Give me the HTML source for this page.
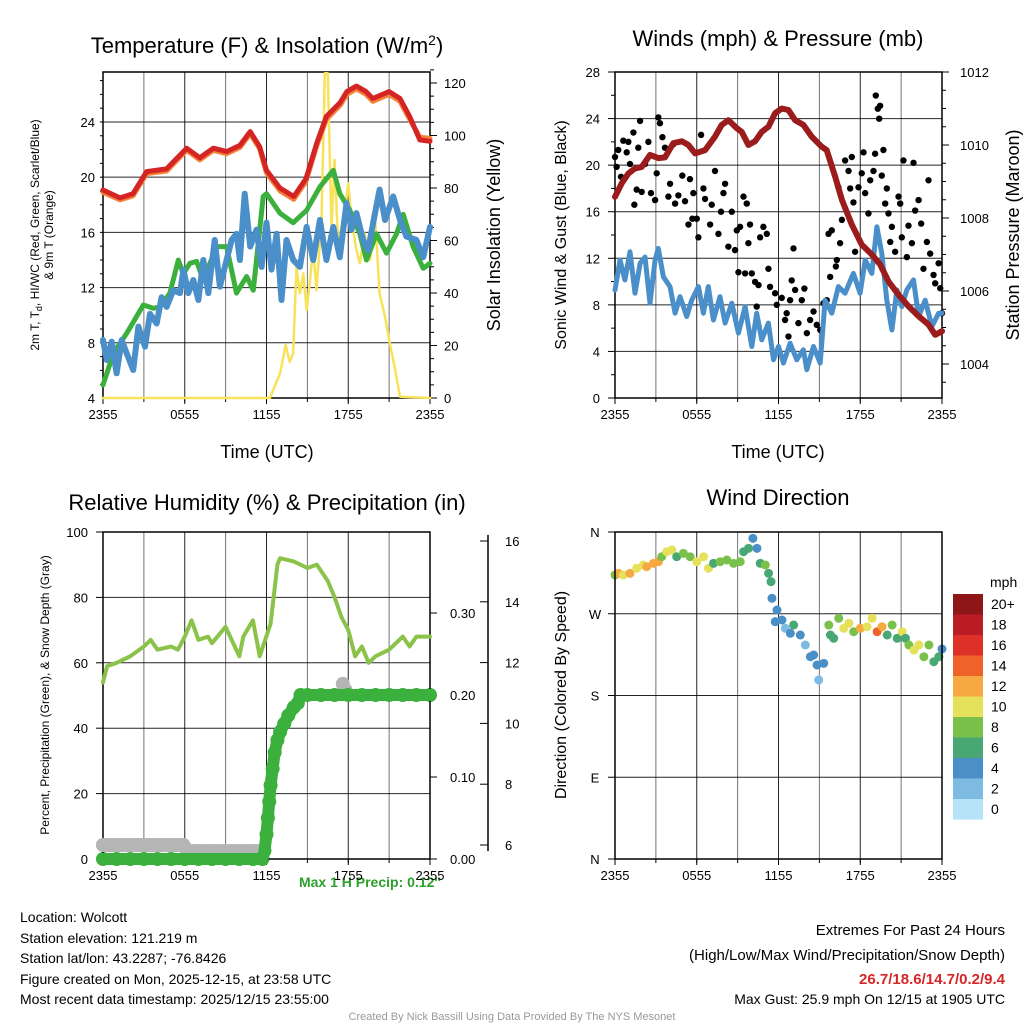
<!DOCTYPE html>
<html><head><meta charset="utf-8"><style>
html,body{margin:0;padding:0;background:#fff}
svg{display:block;font-family:"Liberation Sans",sans-serif}
</style></head><body>
<svg id="s" width="1024" height="1024" viewBox="0 0 1024 1024">
<text x="267" y="53" font-size="22" text-anchor="middle">Temperature (F) &amp; Insolation (W/m<tspan dy="-8" font-size="14">2</tspan><tspan dy="8">)</tspan></text>
<text x="778" y="46" font-size="22" text-anchor="middle">Winds (mph) &amp; Pressure (mb)</text>
<text x="267" y="510" font-size="22" text-anchor="middle">Relative Humidity (%) &amp; Precipitation (in)</text>
<text x="778" y="505" font-size="22" text-anchor="middle">Wind Direction</text>
<text x="267" y="458" font-size="18" text-anchor="middle">Time (UTC)</text>
<text x="778" y="458" font-size="18" text-anchor="middle">Time (UTC)</text>
<text transform="translate(39,235) rotate(-90)" font-size="12" text-anchor="middle">2m T, T<tspan dy="3" font-size="9">d</tspan><tspan dy="-3">, HI/WC (Red, Green, Scarlet/Blue)</tspan></text>
<text transform="translate(53,235) rotate(-90)" font-size="12" text-anchor="middle">&amp; 9m T (Orange)</text>
<text transform="translate(500,235) rotate(-90)" font-size="18" text-anchor="middle">Solar Insolation (Yellow)</text>
<text transform="translate(566,235) rotate(-90)" font-size="16" text-anchor="middle">Sonic Wind &amp; Gust (Blue, Black)</text>
<text transform="translate(1019,235) rotate(-90)" font-size="18" text-anchor="middle">Station Pressure (Maroon)</text>
<text transform="translate(49,695) rotate(-90)" font-size="12" text-anchor="middle">Percent, Precipitation (Green), &amp; Snow Depth (Gray)</text>
<text transform="translate(566,695) rotate(-90)" font-size="16" text-anchor="middle">Direction (Colored By Speed)</text>
<text x="370" y="887" font-size="14" font-weight="bold" fill="#2ca02c" text-anchor="middle">Max 1 H Precip: 0.12''</text>
<text x="990" y="587" font-size="14">mph</text>
<g font-size="14">
<text x="20" y="922">Location: Wolcott</text>
<text x="20" y="943">Station elevation: 121.219 m</text>
<text x="20" y="963">Station lat/lon: 43.2287; -76.8426</text>
<text x="20" y="984">Figure created on Mon, 2025-12-15, at 23:58 UTC</text>
<text x="20" y="1004">Most recent data timestamp: 2025/12/15 23:55:00</text>
</g>
<g font-size="15" text-anchor="end">
<text x="1005" y="935">Extremes For Past 24 Hours</text>
<text x="1005" y="960">(High/Low/Max Wind/Precipitation/Snow Depth)</text>
<text x="1005" y="984" fill="#d62728" font-weight="bold">26.7/18.6/14.7/0.2/9.4</text>
<text x="1005" y="1004" font-size="14">Max Gust: 25.9 mph On 12/15 at 1905 UTC</text>
</g>
<text x="512" y="1020" font-size="11" fill="#999" text-anchor="middle">Created By Nick Bassill Using Data Provided By The NYS Mesonet</text>
</svg>
<script>
// ---- Panel 1 data ----
const xTickLabels = ["2355","0555","1155","1755","2355"];
const tempLeftTicks = [4,8,12,16,20,24];
const insolTicks = [0,20,40,60,80,100,120];
const redT = [0,1.25,2.2,3.2,4.67,6.14,7.1,8.1,9.07,10.05,10.8,11.5,12,13,14,14.9,15.7,16.4,17.4,17.9,18.6,19.3,19.8,21,21.8,22.5,23.25,24];
const redV = [19.07,18.5,18.8,20.4,20.6,22.1,21.4,22.1,21.85,22.3,23.3,22.2,20.5,19.2,18.6,19.9,22.5,24.4,25.4,26.2,26.6,26.2,25.7,26.2,25.7,24.4,22.7,22.6];
const orangeV = [18.9,18.35,18.65,20.25,20.45,21.95,21.25,21.95,21.7,22.15,23.15,22.05,20.3,19.0,18.4,19.7,22.3,24.2,25.2,26.0,26.4,26.0,25.5,26.0,25.5,24.2,22.9,22.8];
const greenT = [0,0.76,1.74,2.96,3.69,4.18,4.91,5.53,5.89,6.38,6.87,7.36,8.34,9.07,9.8,10.54,11.03,11.76,12,12.98,13.96,14.94,15.92,16.9,17.38,18.12,18.85,19.34,20.07,20.81,21.54,22.03,22.76,23.5,24];
const greenV = [4.94,7.24,8.69,10.74,10.5,10.6,11.6,14.0,13.0,13.76,13.9,12.55,14.97,14.97,11.6,12.8,11.8,18.6,18.8,17.4,16.7,17.6,19.3,20.5,18.8,17.6,15.9,14.0,15.9,14.5,15.9,17.3,14.97,13.4,13.76];
const blueT = [0,0.27,0.64,1,1.37,1.74,2.22,2.6,3.08,3.45,3.94,4.3,4.67,5.16,5.65,5.9,6.26,6.63,7,7.36,7.73,8.2,8.58,9.07,9.44,9.8,10.05,10.4,10.8,11.27,11.64,12,12.37,12.74,13.1,13.47,13.96,14.45,14.94,15.43,15.92,16.4,16.9,17.38,17.87,18.24,18.6,19.1,19.46,19.83,20.3,20.7,21.3,21.8,22.27,23,23.5,24];
const blueV = [8.2,6.75,8.08,5.79,8.2,7.24,6.03,9.17,7.72,10.1,9.4,11.3,10.6,11.8,11.6,13.3,11.6,12.55,11.1,14,11.6,15.45,12.07,14,15.45,15.9,14,18.8,14.97,16.2,13.5,16.7,13.3,15.9,11.1,15.45,14,13.5,16.4,14,16.9,14,16.4,14.2,18.1,16.2,17.4,15.45,14.7,16.7,19.1,16.9,18.6,16.9,15.7,15.45,14.2,16.4];
const insolT = [0,12.25,13,13.4,13.7,13.96,14.2,14.45,14.7,14.94,15.2,15.43,15.67,16.04,16.28,16.5,16.77,17,17.26,17.5,17.75,18,18.24,18.6,18.85,19.2,19.6,19.95,20.3,20.7,21.05,21.4,21.8,24];
const insolV = [0,0,9.4,20.2,13.8,17,50,39.9,47.5,33.5,45,57.6,41,67.8,123.7,123.7,65,90.7,57.6,65,71.6,81.8,67.8,56.4,51.3,62.7,52.6,70.4,39.9,31,20.8,11.9,0.5,0];
// ---- Panel 2 data ----
const windTicks = [0,4,8,12,16,20,24,28];
const presTicks = [1004,1006,1008,1010,1012];
const windT = [0,.37,.73,1.1,1.47,1.84,2.2,2.57,2.94,3.18,3.55,4.04,4.41,4.77,5.26,5.63,6.12,6.49,6.85,7.22,7.71,8.08,8.57,9.06,9.55,10.04,10.4,10.77,11.26,11.63,12,12.36,12.85,13.34,13.83,14.08,14.57,15.06,15.42,15.91,16.4,16.89,17.5,17.99,18.36,18.85,19.22,19.58,19.95,20.32,20.69,21.05,21.42,21.91,22.28,22.77,23.26,23.75,24];
const windV = [9.28,11.85,10.14,12.56,9,11.57,12.1,8.14,11.85,12.85,10.4,9.57,7.28,8.7,7,8.4,9.57,7.28,9.57,6.7,8.7,6.43,8.14,5.57,7.85,4.42,7.28,5,6.43,3.28,4.42,3,4.7,3.28,4.14,2.43,4.42,3,8.4,7.28,9.57,9,10.7,9,11.85,10.7,14.7,12.4,8.4,5.85,9.28,7.85,9.28,10.14,7,8.4,6.14,7.28,7.28];
const gustT = [0,.12,.24,.44,.61,.86,.98,1.1,1.35,1.42,1.59,1.71,1.84,1.96,2.2,2.45,2.64,2.94,3.06,3.18,3.3,3.48,3.67,3.92,4.04,4.28,4.41,4.65,4.94,5.14,5.39,5.5,5.68,5.75,6,6.12,6.32,6.49,6.61,6.98,7.1,7.34,7.59,7.78,7.96,8.08,8.32,8.57,8.81,8.94,9.18,9.43,9.67,9.79,9.91,9.06,9.55,10.04,10.28,10.53,10.65,10.89,11.14,11.26,11.38,10.4,11.75,11.87,12.24,12.48,12.6,12.73,12.85,12.97,13.1,13.22,13.46,13.71,13.9,14.08,14.32,14.57,14.81,15.06,15.3,15.54,15.79,15.67,15.91,16.21,16.28,16.4,16.52,16.65,16.89,17.14,17.38,17.26,17.5,17.62,17.87,18.11,18.24,18.36,18.6,18.73,18.97,19.09,19.14,19.29,19.46,19.39,19.58,19.7,19.83,19.95,20.07,20.2,20.32,20.56,20.81,20.93,21.05,21.17,21.42,21.54,21.79,21.91,22.03,22.28,22.47,22.64,22.89,23.01,23.13,23.38,23.5,23.75,23.87,24];
const gustV = [20.7,19.85,21.3,19,22.1,21.1,22,20.1,22.8,16.6,17.9,21.5,23.8,17.7,20.1,22,17.6,17,19.3,24.1,23.6,22.4,21.5,17.3,18.4,21.8,16.7,17.4,19.1,16.9,14.9,18.8,15.4,17.6,15.4,13.8,22.6,18,17.1,14.9,16.6,19.5,14.1,16,17.6,18.4,13,16,12.7,14.4,14.7,17.3,16.7,13.3,14.9,10.8,10.7,10.7,9.97,9.7,13.8,14.7,14.1,11.1,9.55,7.85,9,8,8.6,6.7,7.28,5.28,8.4,10.1,12.85,9.28,6.43,8.4,9.4,5.57,6.7,7.43,6.28,5.85,8.14,8.4,10.4,14.1,14.4,11.3,11.85,18.1,13.3,15.3,20.4,19.5,20.7,18,16.8,12.56,18.1,19.3,21.1,17.6,15.85,18.7,19.5,20.98,25.98,24.85,25.1,23.99,19.1,21.3,16.7,18,15.85,13.4,14.7,12.56,17.3,16.7,13.8,20.4,12.1,14.8,13.3,20.2,16.1,17,14.98,11.1,13.4,18.7,12.4,10.57,9.85,11.57,9.43,7.28];
const presT = [0,.49,.98,1.47,1.96,2.57,3.18,3.67,4.28,4.9,5.39,5.88,6.61,7.34,7.83,8.32,8.94,9.3,9.79,10.28,10.77,11.26,11.75,12.24,12.73,13.22,13.83,14.44,15.18,15.54,16.16,16.65,17.38,18.11,18.85,19.46,20.07,20.81,21.54,22.28,23.01,23.5,24];
const presV = [1008.58,1008.95,1009.22,1009.36,1009.4,1009.73,1009.64,1009.66,1010.05,1010.1,1010,1009.77,1009.86,1010.23,1010.55,1010.68,1010.46,1010.36,1010,1010.1,1010.36,1010.5,1010.87,1011,1010.96,1010.68,1010.55,1010.23,1009.95,1009.86,1009.13,1008.5,1007.82,1007.27,1007,1006.73,1006.26,1005.9,1005.58,1005.31,1005.08,1004.8,1004.9];
// ---- Panel 3 data ----
const rhTicks = [0,20,40,60,80,100];
const precipTicks = ["0.00","0.10","0.20","0.30"];
const snowTicks = [6,8,10,12,14,16];
const rhT = [0,0.3,1,2,3,3.5,4,5,5.5,6,6.5,7,7.7,8,9,10,10.3,11,11.5,12.3,12.8,13,14,15,15.7,16.5,17,17.5,18,18.5,19,19.5,20,21,22,22.5,23,24];
const rhV = [54,59,60,62,65,67,64,65,64,68,73,67,68,66,71,62,68,73,62,72,90,92,91,89,90,85,80,74,70,62,65,60,62,64,68,65,68,68];
const precipT = [0,1,2,3,4,5,6,7,8,9,10,11,11.7,11.85,12,12.1,12.2,12.3,12.45,12.6,12.8,13,13.3,13.6,14,14.3,14.5,15,16,17,18,19,20,21,22,23,24];
const precipV = [0,0,0,0,0,0,0,0,0,0,0,0,0,0.01,0.03,0.05,0.07,0.09,0.11,0.13,0.145,0.155,0.165,0.175,0.185,0.19,0.2,0.2,0.2,0.2,0.2,0.2,0.2,0.2,0.2,0.2,0.2];
const snowT = [0,1,2,3,4,5,5.9,6.2,7,8,9,10,11,11.6,17.6,17.8];
const snowV = [6,6,6,6,6,6,6,5.8,5.8,5.8,5.8,5.8,5.8,5.8,11.3,11.1];
// ---- Panel 4 data ----
const dirLabels = ["N","W","S","E","N"];
const speedBins = ["20+","18","16","14","12","10","8","6","4","2","0"];
const dirT = [0,.25,.61,1.1,1.59,2.08,2.33,2.82,3.19,3.43,3.8,4.17,4.53,5.02,5.51,6,6.5,6.86,7.23,7.72,8.21,8.7,9.19,9.44,9.8,10.12,10.42,10.66,11.03,11.27,11.45,11.52,11.89,11.76,12.25,12.5,12.87,13.11,13.6,13.97,14.34,14.58,14.83,14.95,15.32,15.69,15.81,16.05,16.42,16.79,17.16,17.52,18.01,18.5,18.87,19.24,19.6,19.98,20.34,20.71,21.08,21.32,21.57,21.94,22.3,22.67,23.04,23.4,23.77,24];
const dirV = [312.7,314.5,312.7,314.5,320,323.7,321.8,325.5,327.3,332.8,338.3,340.2,332.8,336.5,332.8,327.3,332.8,320,325.5,327.3,329.2,325.5,327.3,338.3,342,353,342,325.5,323.7,314.5,305.3,287,274.1,261.3,263.1,254,248.5,257.6,246.6,235.6,222.7,224.6,213.6,197.1,215.4,257.6,246.6,243,265,254,259.5,250.2,254,255.7,265,250.2,255.7,246.6,257.6,243,250.2,243,235.6,230,235.6,222.7,235.6,217.2,222.7,231.2];
const dirSpd = [8,12,10,12,10,10,12,12,12,8,10,10,6,8,8,10,10,10,6,8,8,8,8,6,6,4,4,6,8,6,6,4,4,4,4,2,4,6,4,2,4,4,4,2,4,8,6,6,8,10,10,8,12,10,10,14,12,6,8,6,10,6,8,10,10,8,8,6,6,4];

const NS='http://www.w3.org/2000/svg', S=document.getElementById('s');
function mk(tag,attrs,parent){const e=document.createElementNS(NS,tag);for(const k in attrs)e.setAttribute(k,attrs[k]);(parent||S).appendChild(e);return e;}
function txt(x,y,s,size,anchor,parent){const e=mk('text',{x:x,y:y,'font-size':size,'text-anchor':anchor},parent);e.textContent=s;return e;}
function lin(d0,d1,r0,r1){return v=>r0+(v-d0)/(d1-d0)*(r1-r0);}
function poly(T,V,fx,fy,attrs,name){const p=T.map((t,i)=>fx(t).toFixed(1)+','+fy(V[i]).toFixed(1)).join(' ');const e=mk('polyline',Object.assign({points:p,fill:'none','stroke-linejoin':'round','stroke-linecap':'round'},attrs));

return e;}
function frame(x0,x1,y0,y1,name){
 const g=mk('g',{});
 
 
 for(let h=3;h<24;h+=3){const x=x0+(x1-x0)*h/24;mk('line',{x1:x,x2:x,y1:y0,y2:y1,stroke:'#000','stroke-opacity':h%6?0.55:0.85},g);}
 return g;}
function xaxis(x0,x1,y1,g){xTickLabels.forEach((s,i)=>{const x=x0+(x1-x0)*i/4;txt(x,y1+21,s,13,'middle',g);mk('line',{x1:x,x2:x,y1:y1,y2:y1+6,stroke:'#000'},g);});
 for(let h=0;h<=24;h+=3){const x=x0+(x1-x0)*h/24;mk('line',{x1:x,x2:x,y1:y1,y2:y1+4,stroke:'#000'},g);}}
function border(x0,x1,y0,y1,g){mk('rect',{x:x0,y:y0,width:x1-x0,height:y1-y0,fill:'none',stroke:'#000','stroke-width':1.5},g);}

// ===== Panel 1 =====
(function(){const x0=103,x1=430,y0=72,y1=398;const fx=lin(0,24,x0,x1),fy=lin(4,27.62,y1,y0),fi=lin(0,120,y1,83);
 const g=frame(x0,x1,y0,y1,'temp-panel');
 tempLeftTicks.forEach(v=>{const y=fy(v);mk('line',{x1:x0,x2:x1,y1:y,y2:y,stroke:'#000','stroke-opacity':0.85},g);const t=txt(x0-8,y+5,String(v),13,'end',g);
  });
 insolTicks.forEach(v=>{const y=fi(v);mk('line',{x1:x1,x2:x1+7,y1:y,y2:y,stroke:'#000'},g);txt(x1+14,y+5,String(v),13,'start',g);});
 for(let v=5;v<126;v+=5){const y=fi(v);mk('line',{x1:x1,x2:x1+4,y1:y,y2:y,stroke:'#000'},g);}
 for(let v=5;v<28;v+=1){const y=fy(v);mk('line',{x1:x0,x2:x0-3,y1:y,y2:y,stroke:'#000'},g);}
 xaxis(x0,x1,y1,g);
 poly(insolT,insolV,fx,fi,{stroke:'#f7e25a','stroke-width':2.5},'insolation-line');
 poly(greenT,greenV,fx,fy,{stroke:'#3cb03c','stroke-width':5},'dewpoint-line');
 poly(blueT,blueV,fx,fy,{stroke:'#4a8fc9','stroke-width':6},'windchill-line');
 poly(redT,orangeV,fx,fy,{stroke:'#f4823a','stroke-width':5},'temp-9m-line');
 poly(redT,redV,fx,fy,{stroke:'#d42424','stroke-width':5},'temp-2m-line');
 border(x0,x1,y0,y1,g);})();

// ===== Panel 2 =====
(function(){const x0=615,x1=942,y0=72,y1=398;const fx=lin(0,24,x0,x1),fy=lin(0,28,y1,y0),fp=lin(1004,1012,364,72);
 const g=frame(x0,x1,y0,y1,'wind-panel');
 windTicks.forEach(v=>{const y=fy(v);mk('line',{x1:x0,x2:x1,y1:y,y2:y,stroke:'#000','stroke-opacity':0.85},g);txt(x0-15,y+5,String(v),13,'end',g);mk('line',{x1:x0,x2:x0-7,y1:y,y2:y,stroke:'#000'},g);});
 for(let v=2;v<28;v+=4){const y=fy(v);mk('line',{x1:x0,x2:x0-4,y1:y,y2:y,stroke:'#000'},g);}
 presTicks.forEach(v=>{const y=fp(v);mk('line',{x1:x1,x2:x1+7,y1:y,y2:y,stroke:'#000'},g);txt(x1+18,y+5,String(v),13,'start',g);});
 for(let v=1003.5;v<1012;v+=0.5){const y=fp(v);mk('line',{x1:x1,x2:x1+4,y1:y,y2:y,stroke:'#000'},g);}
 xaxis(x0,x1,y1,g);
 poly(windT,windV,fx,fy,{stroke:'#4a8fc9','stroke-width':5},'sonic-wind-line');
 gustT.forEach((t,i)=>{const c=mk('circle',{cx:fx(t),cy:fy(gustV[i]),r:3.2,fill:'#000'},g);
  
  });
 poly(presT,presV,fx,fp,{stroke:'#9b1c1c','stroke-width':6},'pressure-line');
 border(x0,x1,y0,y1,g);})();

// ===== Panel 3 =====
(function(){const x0=103,x1=430,y0=532,y1=859;const fx=lin(0,24,x0,x1),fy=lin(0,100,y1,y0),fpr=lin(0,0.1,y1,777),fs=lin(6,16,845,541);
 const g=frame(x0,x1,y0,y1,'rh-panel');
 rhTicks.forEach(v=>{const y=fy(v);mk('line',{x1:x0,x2:x1,y1:y,y2:y,stroke:'#000','stroke-opacity':0.85},g);txt(x0-15,y+5,String(v),13,'end',g);mk('line',{x1:x0,x2:x0-7,y1:y,y2:y,stroke:'#000'},g);});
 precipTicks.forEach(s=>{const y=fpr(parseFloat(s));mk('line',{x1:x1,x2:x1+7,y1:y,y2:y,stroke:'#000'},g);txt(x1+20,y+5,s,13,'start',g);});
 mk('line',{x1:488,x2:488,y1:fs(16.2),y2:fs(5.8),stroke:'#000','stroke-width':1.5},g);
 snowTicks.forEach(v=>{const y=fs(v);mk('line',{x1:488,x2:480,y1:y,y2:y,stroke:'#000'},g);txt(505,y+5,String(v),13,'start',g);});
 xaxis(x0,x1,y1,g);
 snowT.forEach((t,i)=>{const c=mk('circle',{cx:fx(t),cy:fs(snowV[i]),r:7,fill:'#b5b5b5'},g);
  
  });
 poly(snowT.slice(0,14),snowV.slice(0,14),fx,fs,{stroke:'#b5b5b5','stroke-width':14},'snow-depth-line');
 poly(rhT,rhV,fx,fy,{stroke:'#8bc34a','stroke-width':4},'rh-line');
 poly(precipT,precipV,fx,fpr,{stroke:'#3cb03c','stroke-width':12},'precip-line');
 precipT.forEach((t,i)=>{const c=mk('circle',{cx:fx(t),cy:fpr(precipV[i]),r:7,fill:'#3cb03c'},g);
  
  });
 border(x0,x1,y0,y1,g);})();

// ===== Panel 4 =====
(function(){const x0=615,x1=942,y0=532,y1=859;const fx=lin(0,24,x0,x1),fy=lin(0,360,y1,y0);
 const cols=['#b5e3f7','#7ebbe3','#4a8fc6','#49a773','#7ac14b','#e6e15a','#f7a941','#ef622a','#dd3127','#b91c25','#8e1518'];
 const g=frame(x0,x1,y0,y1,'direction-panel');
 dirLabels.forEach((s,i)=>{const y=y0+(y1-y0)*i/4;mk('line',{x1:x0,x2:x1,y1:y,y2:y,stroke:'#000','stroke-opacity':0.85},g);txt(x0-20,y+5,s,13,'middle',g);mk('line',{x1:x0,x2:x0-7,y1:y,y2:y,stroke:'#000'},g);});
 xaxis(x0,x1,y1,g);
 dirT.forEach((t,i)=>{const idx=Math.min(10,Math.floor(dirSpd[i]/2));const c=mk('circle',{cx:fx(t),cy:fy(dirV[i]),r:4.5,fill:cols[idx]},g);
  
  });
 border(x0,x1,y0,y1,g);
 const cb=mk('g',{});
 
 
 speedBins.forEach((s,i)=>{const y=594+i*20.5;mk('rect',{x:953,y:y,width:30,height:20.6,fill:cols[10-i]},cb);txt(991,y+15,s,14,'start',cb);});
})();
</script>
</body></html>
